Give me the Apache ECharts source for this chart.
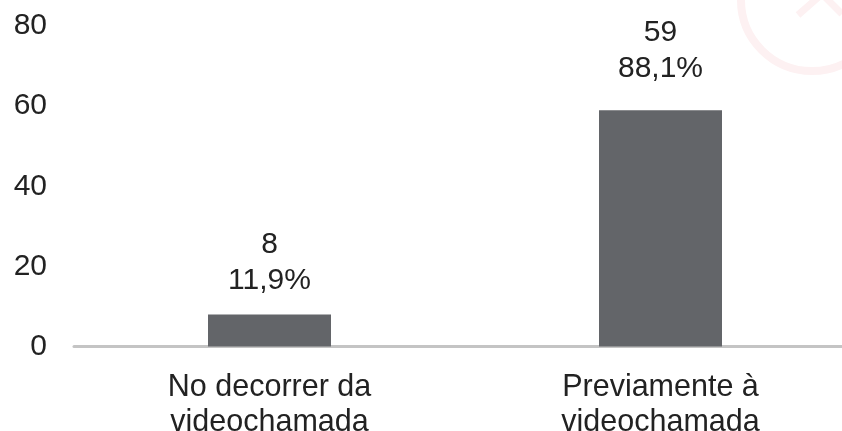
<!DOCTYPE html>
<html><head><meta charset="utf-8">
<style>html,body{margin:0;padding:0;background:#fff}#c{width:842px;height:431px}</style>
<script src="https://cdn.jsdelivr.net/npm/echarts@6/dist/echarts.min.js"></script>
</head><body><div id="c"></div>
<script>
const categories = ["No decorrer da\nvideochamada", "Previamente à\nvideochamada"];
const counts = [8, 59];
const percents = ["11,9%", "88,1%"];
const labelGaps = [16, 23];
const chart = echarts.init(document.getElementById('c'), null, {renderer:'canvas'});
chart.setOption({
  animation:false,
  backgroundColor:'#fff',
  graphic:[
    {type:'circle',silent:true,z:-1,shape:{cx:812,cy:0,r:71},style:{fill:'none',stroke:'#fdf1f2',lineWidth:8}},
    {type:'polyline',silent:true,z:-1,shape:{points:[[798,15],[822,-6],[842,14]]},style:{fill:'none',stroke:'#fdf1f2',lineWidth:7}}
  ],
  grid:{left:74,right:-14,top:26,bottom:84.5,outerBoundsMode:'none'},
  xAxis:{type:'category',data:categories,
    axisLine:{lineStyle:{color:'#c4c4c4',width:3}},axisTick:{show:false},
    axisLabel:{color:'#222',fontFamily:'Liberation Sans',fontSize:30.5,lineHeight:35,margin:24}},
  yAxis:{type:'value',min:0,max:80,interval:20,
    axisLine:{show:false},axisTick:{show:false},splitLine:{show:false},
    axisLabel:{color:'#222',fontFamily:'Liberation Sans',fontSize:30,margin:27,align:'right'}},
  series:[{type:'bar',barWidth:123,
    data:counts.map((v,i)=>({value:v,label:{distance:labelGaps[i]}})),
    itemStyle:{color:'#636569'},
    label:{show:true,position:'top',color:'#222',fontFamily:'Liberation Sans',fontSize:30,lineHeight:36,
      formatter:p=>counts[p.dataIndex]+"\n"+percents[p.dataIndex]}}]
});
</script></body></html>
